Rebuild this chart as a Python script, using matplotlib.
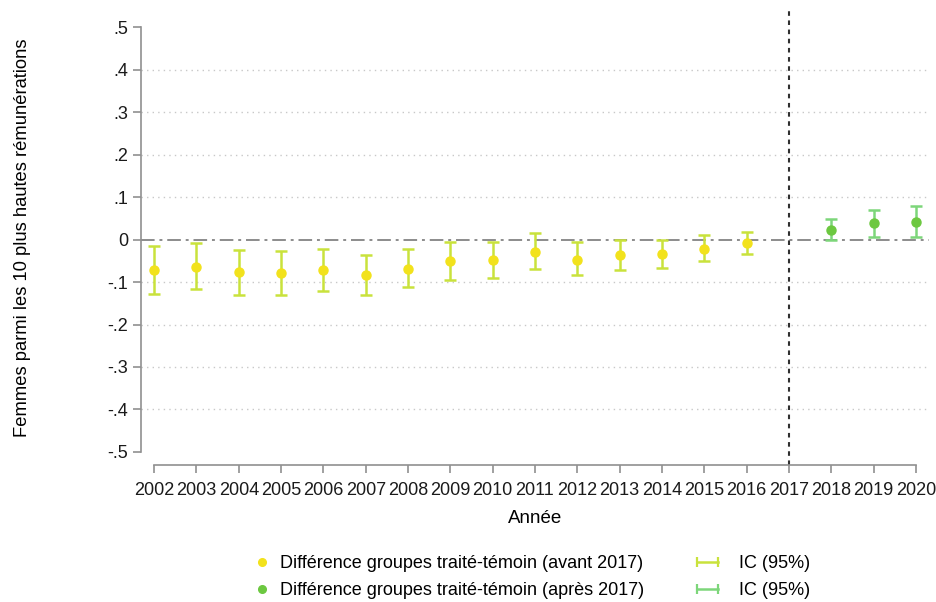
import numpy as np
import matplotlib.pyplot as plt
from matplotlib.lines import Line2D
from matplotlib.legend_handler import HandlerLine2D

plt.rcParams['font.family'] = ['Liberation Sans', 'DejaVu Sans']

# Data
years_pre = [2002, 2003, 2004, 2005, 2006, 2007, 2008, 2009, 2010,
             2011, 2012, 2013, 2014, 2015, 2016]
est_pre = [-0.071, -0.065, -0.077, -0.079, -0.072, -0.084, -0.069, -0.051, -0.049,
           -0.029, -0.047, -0.036, -0.034, -0.022, -0.008]
lo_pre = [-0.128, -0.117, -0.130, -0.130, -0.120, -0.131, -0.112, -0.095, -0.091,
          -0.069, -0.084, -0.072, -0.067, -0.051, -0.034]
hi_pre = [-0.015, -0.009, -0.024, -0.026, -0.022, -0.036, -0.022, -0.006, -0.005,
          0.015, -0.006, 0.000, 0.000, 0.011, 0.019]

years_post = [2018, 2019, 2020]
est_post = [0.023, 0.038, 0.042]
lo_post = [-0.002, 0.006, 0.007]
hi_post = [0.049, 0.069, 0.079]

year_ticks = list(range(2002, 2021))
y_ticks = [0.5, 0.4, 0.3, 0.2, 0.1, 0.0, -0.1, -0.2, -0.3, -0.4, -0.5]
y_ticklabels = ['.5', '.4', '.3', '.2', '.1', '0', '-.1', '-.2', '-.3', '-.4', '-.5']

c_pt_pre = '#f2e21c'
c_ci_pre = '#c9e23c'
c_pt_post = '#6cc840'
c_ci_post = '#7dd67a'

fig = plt.figure(figsize=(9.37, 6.02), dpi=100)
ax = fig.add_axes([141/937, 1 - 465/602, (929 - 141)/937, (465 - 10)/602])

# gridlines
for v in y_ticks:
    if v != 0 and abs(v) < 0.5:
        ax.axhline(v, color='#c8c8c8', lw=1, ls=(0, (1, 3)), zorder=0)
ax.axhline(0, color='#8c8c8c', lw=1.4, dashes=(7, 2.5, 1.5, 2.5), zorder=1)
ax.axvline(2017, color='#303030', lw=1.5, dashes=(2.2, 2.2), zorder=1)

# pre-2017
err_pre = [np.array(est_pre) - np.array(lo_pre), np.array(hi_pre) - np.array(est_pre)]
ax.errorbar(years_pre, est_pre, yerr=err_pre, fmt='none', ecolor=c_ci_pre,
            elinewidth=1.8, capsize=4, capthick=1.8, zorder=2)
ax.plot(years_pre, est_pre, 'o', color=c_pt_pre, ms=6.5, zorder=3)

# post-2017
err_post = [np.array(est_post) - np.array(lo_post), np.array(hi_post) - np.array(est_post)]
ax.errorbar(years_post, est_post, yerr=err_post, fmt='none', ecolor=c_ci_post,
            elinewidth=1.8, capsize=4, capthick=1.8, zorder=2)
ax.plot(years_post, est_post, 'o', color=c_pt_post, ms=6.5, zorder=3)

ax.set_xlim(2001.69, 2020.31)
ax.set_ylim(-0.531, 0.541)

for s in ['top', 'right']:
    ax.spines[s].set_visible(False)
ax.spines['left'].set_bounds(-0.5, 0.5)
ax.spines['bottom'].set_bounds(2002, 2020)
ax.spines['left'].set_color('#909090')
ax.spines['bottom'].set_color('#909090')
ax.spines['left'].set_linewidth(1.2)
ax.spines['bottom'].set_linewidth(1.2)

ax.set_yticks(y_ticks)
ax.set_yticklabels(y_ticklabels)
ax.set_xticks(year_ticks)
ax.set_xticklabels([str(y) for y in year_ticks])
ax.tick_params(axis='both', colors='#909090', labelcolor='#1a1a1a',
               labelsize=13, length=6, width=1.2)
ax.tick_params(axis='x', pad=6)
ax.tick_params(axis='y', pad=3)

ax.set_xlabel('Année', fontsize=13.5)
ax.xaxis.set_label_coords(0.5, -0.099)
ax.set_ylabel('Femmes parmi les 10 plus hautes rémunérations', fontsize=13.2)
ax.yaxis.set_label_coords(-0.139, 0.5)

# legend: two columns placed separately
h1 = Line2D([], [], ls='none', marker='o', color=c_pt_pre, ms=5.5)
h2 = Line2D([], [], ls='none', marker='o', color=c_pt_post, ms=5.5)
h3 = Line2D([], [], color=c_ci_pre, lw=1.8, marker='|', ms=7, mew=1.6)
h4 = Line2D([], [], color=c_ci_post, lw=1.8, marker='|', ms=7, mew=1.6)

leg_kw = dict(loc='center left', frameon=False, fontsize=13, handlelength=1.72,
              labelspacing=0.55, borderpad=0, borderaxespad=0)
leg1 = fig.legend([h1, h2],
                  ['Différence groupes traité-témoin (avant 2017)',
                   'Différence groupes traité-témoin (après 2017)'],
                  bbox_to_anchor=(246/937, 1 - 577/602), handletextpad=0.15, **leg_kw)
leg2 = fig.legend([h3, h4], ['IC (95%)', 'IC (95%)'],
                  handler_map={h3: HandlerLine2D(numpoints=2), h4: HandlerLine2D(numpoints=2)},
                  bbox_to_anchor=(692/937, 1 - 577/602), handletextpad=0.9, **leg_kw)

fig.savefig('out.png', dpi=100)
